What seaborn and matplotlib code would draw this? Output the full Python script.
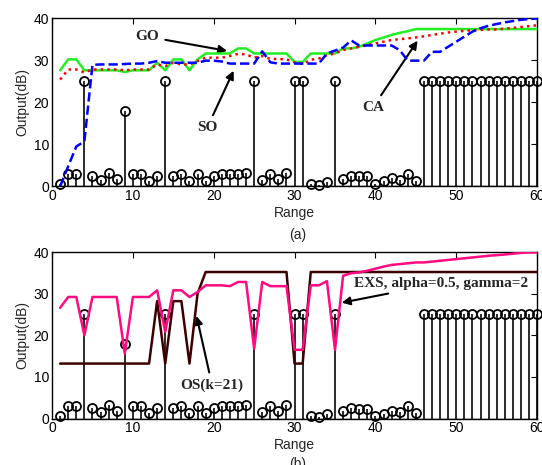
import numpy as np
import pandas as pd
import matplotlib
matplotlib.use("Agg")
import matplotlib.pyplot as plt
import seaborn as sns

sns.set_theme(style="white")
plt.rcParams['font.family'] = ['Liberation Sans', 'DejaVu Sans']

rng_x = list(range(1, 61))
target = [0.5, 3.0, 3.0, 25, 2.5, 1.6, 3.2, 1.7, 18, 3.0,
          2.9, 1.3, 2.5, 25, 2.5, 2.9, 1.4, 2.9, 1.3, 2.6,
          2.9, 2.9, 2.9, 3.2, 25, 1.6, 3.0, 1.8, 3.3, 25,
          25, 0.7, 0.4, 1.1, 25, 1.8, 2.5, 2.4, 2.4, 0.7,
          1.2, 1.9, 1.5, 2.9, 1.4] + [25] * 15

go = [27.6, 30.2, 30.2, 27.6, 27.6, 27.6, 27.6, 27.6, 27.2, 27.6,
      27.6, 27.6, 29.4, 27.6, 30.2, 30.2, 27.6, 30.2, 31.6, 31.6,
      31.6, 31.6, 32.8, 32.8, 31.6, 31.6, 31.6, 31.6, 31.6, 29.6,
      29.6, 31.6, 31.6, 31.6, 31.6, 32.8, 32.8, 33.2, 34.0, 34.8,
      35.4, 36.0, 36.5, 36.9, 37.4, 37.4, 37.4, 37.4, 37.4, 37.4,
      37.4, 37.4, 37.4, 37.4, 37.4, 37.4, 37.4, 37.4, 37.4, 37.4]

so = [25.4, 27.8, 27.8, 27.1, 27.8, 27.8, 27.8, 27.8, 27.6, 27.8,
      27.8, 27.8, 29.0, 28.6, 29.4, 29.0, 29.0, 29.8, 30.6, 30.6,
      30.6, 31.0, 31.5, 31.4, 30.6, 31.0, 30.3, 30.3, 30.2, 29.5,
      29.1, 30.1, 30.4, 31.2, 31.6, 32.4, 32.8, 33.2, 33.6, 34.0,
      34.4, 34.8, 35.0, 35.2, 35.4, 35.7, 36.0, 36.3, 36.6, 36.8,
      37.0, 37.1, 37.2, 37.3, 37.3, 37.5, 37.7, 37.9, 38.1, 38.3]

ca = [0.0, 4.8, 9.5, 10.7, 28.9, 29.0, 29.0, 29.0, 29.1, 29.2,
      29.2, 29.4, 29.8, 29.4, 29.4, 29.4, 29.4, 29.4, 29.9, 29.9,
      29.7, 29.2, 29.2, 29.2, 29.2, 32.1, 29.5, 29.2, 29.2, 29.2,
      29.2, 29.2, 29.2, 31.6, 32.3, 33.0, 34.7, 33.5, 33.5, 33.5,
      33.5, 33.5, 32.4, 29.9, 29.9, 29.9, 32.0, 32.0, 33.2, 34.4,
      35.6, 36.8, 37.6, 38.2, 38.6, 39.0, 39.3, 39.6, 39.8, 39.9]

os_k21 = [13.2] * 12 + [28.2, 13.2, 28.2, 28.2, 13.2, 30.0] + [35.2] * 11 + \
         [13.2, 13.2] + [35.2] * 29

exs = [26.6, 29.2, 29.2, 20.0, 29.2, 29.2, 29.2, 29.2, 15.6, 29.2,
       29.2, 29.2, 30.8, 20.8, 30.8, 30.8, 29.2, 30.4, 32.0, 32.0,
       32.0, 31.8, 32.8, 32.8, 16.8, 32.8, 31.8, 31.8, 31.8, 16.5,
       16.5, 32.0, 32.0, 33.0, 16.5, 34.3, 34.9, 35.1, 35.5, 36.0,
       36.5, 36.9, 37.1, 37.3, 37.5, 37.5, 37.7, 37.9, 38.1, 38.3,
       38.5, 38.7, 38.9, 39.1, 39.25, 39.4, 39.6, 39.8, 39.9, 39.9]

xticks = [0, 10, 20, 30, 40, 50, 60]
yticks = [0, 10, 20, 30, 40]

df = pd.DataFrame({"Range": rng_x, "target": target, "GO": go, "SO": so,
                   "CA": ca, "OS": os_k21, "EXS": exs})

fig = plt.figure(figsize=(5.42, 4.65), dpi=100)
ax1 = fig.add_axes([0.096, 0.599, 0.895, 0.362])
ax2 = fig.add_axes([0.096, 0.100, 0.895, 0.358])

serif_bold = dict(family=['Liberation Serif', 'DejaVu Serif'], fontweight='bold', fontsize=11)
arrowp = dict(arrowstyle='-|>', color='black', lw=1.5, mutation_scale=12)


def draw_stems(ax):
    ml, sl, bl = ax.stem(df["Range"], df["target"], linefmt='k-', markerfmt='ko', basefmt='k-')
    plt.setp(ml, markerfacecolor='none', markeredgecolor='black', markersize=6.5,
             markeredgewidth=1.3, clip_on=False, zorder=3)
    plt.setp(sl, linewidth=1.3)
    plt.setp(bl, linewidth=1.0)


def style(ax):
    ax.set_xlim(0, 60)
    ax.set_ylim(0, 40)
    ax.set_xticks(xticks)
    ax.set_yticks(yticks)
    ax.tick_params(direction='in', length=4, width=0.8, top=True, right=True,
                   labelsize=10, colors='black', pad=2)
    for s in ax.spines.values():
        s.set_color('black')
        s.set_linewidth(1.0)
    ax.set_xlabel("Range", fontsize=10, labelpad=2)
    ax.set_ylabel("Output(dB)", fontsize=10, labelpad=3)
    ax.grid(False)


# top panel
draw_stems(ax1)
sns.lineplot(data=df, x="Range", y="GO", ax=ax1, color='#22ee22', lw=1.8, zorder=4)
sns.lineplot(data=df, x="Range", y="SO", ax=ax1, color='#ff0000', lw=1.8, zorder=4,
             linestyle=':')
sns.lineplot(data=df, x="Range", y="CA", ax=ax1, color='#0000ff', lw=1.8, zorder=4,
             linestyle='--')
style(ax1)
ax1.annotate("GO", xy=(22.0, 32.1), xytext=(11.8, 35.6), ha='center', va='center',
             arrowprops=arrowp, **serif_bold)
ax1.annotate("SO", xy=(22.6, 28.1), xytext=(19.2, 14.0), ha='center', va='center',
             arrowprops=arrowp, **serif_bold)
ax1.annotate("CA", xy=(45.4, 35.2), xytext=(39.7, 18.8), ha='center', va='center',
             arrowprops=arrowp, **serif_bold)

# bottom panel
draw_stems(ax2)
sns.lineplot(data=df, x="Range", y="OS", ax=ax2, color='#3d0000', lw=1.8, zorder=4)
sns.lineplot(data=df, x="Range", y="EXS", ax=ax2, color='#ff0a80', lw=1.8, zorder=5)
style(ax2)
ax2.annotate("OS(k=21)", xy=(17.8, 25.3), xytext=(19.8, 8.0), ha='center', va='center',
             arrowprops=arrowp, **serif_bold)
ax2.annotate("EXS, alpha=0.5, gamma=2", xy=(35.5, 27.7), xytext=(37.3, 32.5), ha='left',
             va='center', arrowprops=arrowp, **serif_bold)

fig.text(0.549, 1 - 235 / 465, "(a)", ha='center', va='center', fontsize=10)
fig.text(0.549, 1 - 464 / 465, "(b)", ha='center', va='center', fontsize=10)

fig.savefig("out.png", dpi=100)
